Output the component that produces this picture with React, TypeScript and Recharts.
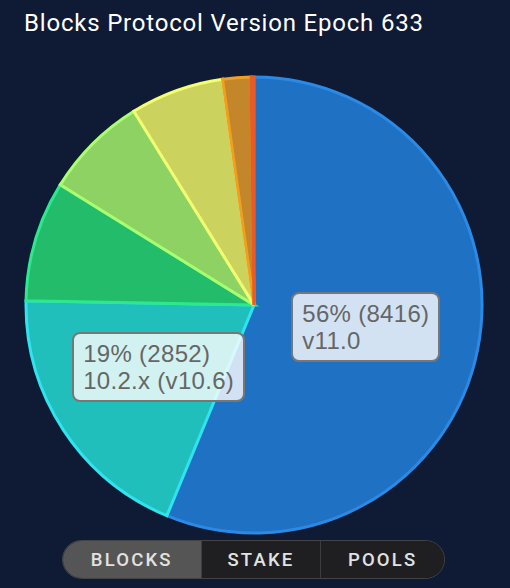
import { PieChart, Pie, Cell } from "recharts";

// Protocol versions, clockwise from 12 o'clock
const versions = ["v11.0", "10.2.x (v10.6)", "10.1.x (v10.5)", "10.0.x (v10.4)", "9.x (v10.3)", "8.x (v10.2)", "other"];
const blocks = [8416, 2852, 1277, 1097, 992, 300, 30];

const fills = ["#1f71c3", "#20bfbb", "#22bc6b", "#8ed263", "#cbd25e", "#c3862b", "#d9531f"];
const strokes = ["#2a8ae6", "#2fe3ef", "#2ee88d", "#a9ff70", "#f2ff70", "#f0a020", "#ea5a22"];

const total = blocks.reduce((a, b) => a + b, 0);
const data = versions.map((name, i) => ({ name, value: blocks[i] }));

const tabs = ["BLOCKS", "STAKE", "POOLS"];

const RAD = Math.PI / 180;

const renderLabel = (props: any) => {
  const { cx, cy, midAngle, outerRadius, value, name } = props;
  const pct = Math.round((value / total) * 100);
  if (pct < 10) return null;
  const r = outerRadius * 0.5;
  const x = cx + r * Math.cos(-midAngle * RAD);
  const y = cy + r * Math.sin(-midAngle * RAD);
  const w = 260;
  const h = 100;
  return (
    <foreignObject x={x - w / 2} y={y - h / 2} width={w} height={h}>
      <div
        style={{
          width: w,
          height: h,
          display: "flex",
          alignItems: "center",
          justifyContent: "center",
        }}
      >
        <div
          style={{
            background: "rgba(255,255,255,0.8)",
            border: "2px solid #777",
            borderRadius: 8,
            padding: "6px 9px",
            color: "#666",
            fontFamily: "'Liberation Sans', Arial, sans-serif",
            fontSize: 24,
            letterSpacing: 0.3,
            lineHeight: "27px",
            whiteSpace: "nowrap",
          }}
        >
          <div>{`${pct}% (${value})`}</div>
          <div>{name}</div>
        </div>
      </div>
    </foreignObject>
  );
};

export default function App() {
  return (
    <div
      style={{
        position: "fixed",
        left: 0,
        top: 0,
        width: 510,
        height: 588,
        background: "#0f1a35",
        fontFamily: "Roboto, sans-serif",
        overflow: "hidden",
      }}
    >
      <div
        style={{
          position: "absolute",
          left: 24,
          top: 9,
          color: "#fff",
          fontSize: 24,
          letterSpacing: 0.8,
        }}
      >
        Blocks Protocol Version Epoch 633
      </div>
      <div style={{ position: "absolute", left: 0, top: 0 }}>
        <PieChart width={510} height={588} margin={{ top: 0, right: 0, bottom: 0, left: 0 }}>
          <Pie
            data={data}
            dataKey="value"
            nameKey="name"
            cx={254}
            cy={305}
            outerRadius={228}
            startAngle={90}
            endAngle={-270}
            strokeWidth={3}
            label={renderLabel}
            labelLine={false}
            isAnimationActive={false}
          >
            {data.map((d, i) => (
              <Cell key={d.name} fill={fills[i]} stroke={strokes[i]} />
            ))}
          </Pie>
        </PieChart>
      </div>
      <div
        style={{
          position: "absolute",
          left: 62,
          top: 540,
          width: 383,
          height: 39,
          borderRadius: 20,
          border: "1px solid #444",
          boxSizing: "border-box",
          overflow: "hidden",
          display: "flex",
        }}
      >
        {tabs.map((t, i) => (
          <div
            key={t}
            style={{
              width: i === 0 ? 139 : i === 1 ? 120 : 124,
              background: i === 0 ? "#555" : "#1f1f22",
              borderLeft: i > 0 ? "1px solid #3d3d40" : "none",
              color: "#e2e2e2",
              fontSize: 18.5,
              fontWeight: 500,
              letterSpacing: 2.2,
              display: "flex",
              alignItems: "center",
              justifyContent: "center",
            }}
          >
            {t}
          </div>
        ))}
      </div>
    </div>
  );
}
